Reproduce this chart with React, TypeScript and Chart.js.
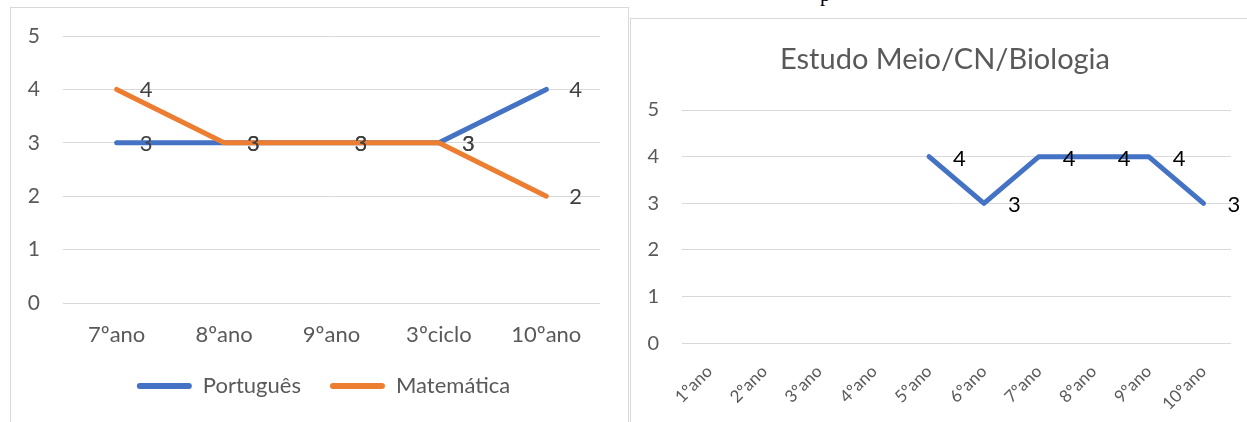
import React, { useEffect, useRef } from 'react';
import { Chart, registerables } from 'chart.js';

Chart.register(...registerables);
Chart.defaults.font.family = 'Lato, "Noto Sans", sans-serif';

const leftCategories = ['7ºano', '8ºano', '9ºano', '3ºciclo', '10ºano'];
const portuguesValues = [3, 3, 3, 3, 4];
const matematicaValues = [4, 3, 3, 3, 2];

const rightCategories = ['1ºano', '2ºano', '3ºano', '4ºano', '5ºano', '6ºano', '7ºano', '8ºano', '9ºano', '10ºano'];
const biologiaValues: (number | null)[] = [null, null, null, null, 4, 3, 4, 4, 4, 3];
const rightTitle = 'Estudo Meio/CN/Biologia';

const yMin = 0;
const yMax = 5;
const yStep = 1;

const BLUE = '#4472C4';
const ORANGE = '#ED7D31';
const GRID = '#d9d9d9';
const TEXT = '#595959';

const valueLabelPlugin = {
  id: 'valueLabels',
  afterDatasetsDraw(chart: any, _args: any, opts: any) {
    const ctx = chart.ctx;
    ctx.save();
    ctx.font = opts.font;
    ctx.fillStyle = opts.color;
    ctx.textAlign = 'left';
    ctx.textBaseline = 'middle';
    chart.data.datasets.forEach((ds: any, i: number) => {
      const meta = chart.getDatasetMeta(i);
      meta.data.forEach((pt: any, j: number) => {
        const v = ds.data[j];
        if (v === null || v === undefined) return;
        ctx.fillText(String(v), pt.x + opts.dx, pt.y + opts.dy);
      });
    });
    ctx.restore();
  },
};

const boxShiftPlugin = {
  id: 'boxShift',
  afterLayout(chart: any, _args: any, opts: any) {
    if (opts.legend && chart.legend) {
      chart.legend.left += opts.legend;
      chart.legend.right += opts.legend;
    }
    if (opts.title && chart.titleBlock) {
      chart.titleBlock.left += opts.title;
      chart.titleBlock.right += opts.title;
    }
  },
};

const lineStyle = {
  borderWidth: 5,
  pointRadius: 0,
  pointHoverRadius: 0,
  borderCapStyle: 'round',
  borderJoinStyle: 'round',
  tension: 0,
  fill: false,
};

const fitY = (width: number) => (s: any) => {
  s.width = width;
  s.paddingTop = 0;
  s.paddingBottom = 0;
};

function LeftChart() {
  const ref = useRef<HTMLCanvasElement>(null);
  useEffect(() => {
    const chart = new Chart(ref.current as HTMLCanvasElement, {
      type: 'line',
      data: {
        labels: leftCategories,
        datasets: [
          { label: 'Português', data: portuguesValues, borderColor: BLUE, backgroundColor: BLUE, order: 1, ...lineStyle } as any,
          { label: 'Matemática', data: matematicaValues, borderColor: ORANGE, backgroundColor: ORANGE, order: 0, ...lineStyle } as any,
        ],
      },
      options: {
        animation: false,
        responsive: false,
        maintainAspectRatio: false,
        layout: { padding: { top: 28, right: 28, bottom: 15, left: 0 } },
        scales: {
          x: {
            offset: true,
            grid: { display: false, drawTicks: false },
            border: { display: false },
            ticks: { font: { size: 22 }, color: TEXT, padding: 19, maxRotation: 0, autoSkip: false },
            afterFit: (s: any) => { s.height = 43; },
          },
          y: {
            min: yMin,
            max: yMax,
            ticks: { stepSize: yStep, font: { size: 21 }, color: TEXT, padding: 23 },
            grid: { color: GRID, drawTicks: false, lineWidth: 1 },
            border: { display: false },
            afterFit: fitY(52),
          },
        },
        plugins: {
          legend: {
            position: 'bottom',
            labels: {
              boxWidth: 55,
              boxHeight: 6,
              useBorderRadius: true,
              borderRadius: 3,
              padding: 29,
              font: { size: 22 },
              color: TEXT,
              sort: (a: any, b: any) => a.datasetIndex - b.datasetIndex,
              generateLabels: (c: any) =>
                (Chart.defaults.plugins.legend.labels.generateLabels as any)(c).map((it: any) => ({ ...it, lineWidth: 0 })),
            },
          },
          tooltip: { enabled: false },
          boxShift: { legend: 18 },
          valueLabels: { font: '22px Lato, "Noto Sans", sans-serif', color: '#404040', dx: 23, dy: 1 },
        } as any,
      },
      plugins: [valueLabelPlugin, boxShiftPlugin],
    } as any);
    return () => chart.destroy();
  }, []);
  return <canvas ref={ref} width={617} height={414} style={{ position: 'absolute', left: 11, top: 8, width: 617, height: 414 }} />;
}

function RightChart() {
  const ref = useRef<HTMLCanvasElement>(null);
  useEffect(() => {
    const chart = new Chart(ref.current as HTMLCanvasElement, {
      type: 'line',
      data: {
        labels: rightCategories,
        datasets: [
          { label: rightTitle, data: biologiaValues, borderColor: BLUE, backgroundColor: BLUE, ...lineStyle } as any,
        ],
      },
      options: {
        animation: false,
        responsive: false,
        maintainAspectRatio: false,
        layout: { padding: { top: 0, right: 16, bottom: 0, left: 0 } },
        scales: {
          x: {
            offset: true,
            grid: { display: false, drawTicks: false },
            border: { display: false },
            ticks: { font: { size: 17 }, color: TEXT, padding: 18, minRotation: 45, maxRotation: 45, autoSkip: false },
            afterFit: (s: any) => { s.height = 78.7; },
          },
          y: {
            min: yMin,
            max: yMax,
            ticks: { stepSize: yStep, font: { size: 20 }, color: TEXT, padding: 23 },
            grid: { color: GRID, drawTicks: false, lineWidth: 1 },
            border: { display: false },
            afterFit: fitY(51),
          },
        },
        plugins: {
          legend: { display: false },
          title: {
            display: true,
            text: rightTitle,
            font: { size: 29, weight: 'normal' },
            color: TEXT,
            padding: { top: 23.6, bottom: 32.6 },
          },
          tooltip: { enabled: false },
          boxShift: { title: 14 },
          valueLabels: { font: '22px Lato, "Noto Sans", sans-serif', color: '#000000', dx: 24, dy: 2 },
        } as any,
      },
      plugins: [valueLabelPlugin, boxShiftPlugin],
    } as any);
    return () => chart.destroy();
  }, []);
  return <canvas ref={ref} width={616} height={403} style={{ position: 'absolute', left: 631, top: 19, width: 616, height: 403 }} />;
}

export default function App() {
  return (
    <div style={{ position: 'fixed', left: 0, top: 0, width: 1247, height: 422, overflow: 'hidden', background: '#ffffff' }}>
      <div style={{ position: 'absolute', left: 10, top: 7, width: 619, height: 430, border: `1px solid ${GRID}`, boxSizing: 'border-box' }} />
      <div style={{ position: 'absolute', left: 630, top: 18, width: 630, height: 430, border: `1px solid ${GRID}`, boxSizing: 'border-box' }} />
      <div style={{ position: 'absolute', left: 820, top: -16, fontFamily: '"Liberation Serif", serif', fontSize: 21, lineHeight: '21px', color: '#000' }}>p</div>
      <LeftChart />
      <RightChart />
    </div>
  );
}
